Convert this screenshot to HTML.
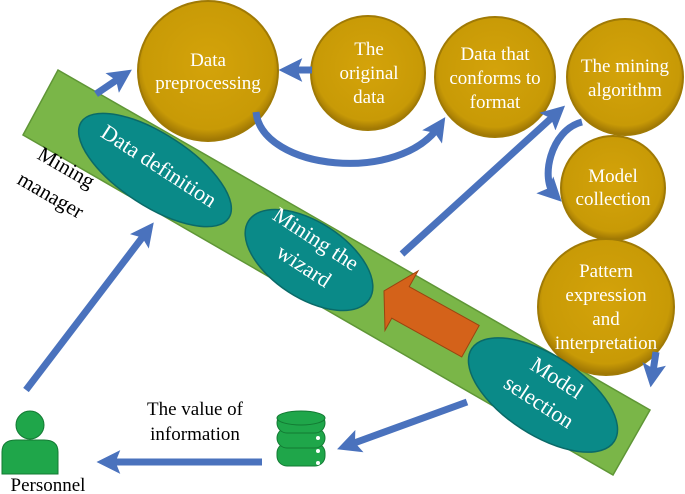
<!DOCTYPE html>
<html><head><meta charset="utf-8"><style>
html,body{margin:0;padding:0;background:#fff;}
svg{display:block;font-family:"Liberation Serif",serif;}
</style></head><body>
<svg width="685" height="494" viewBox="0 0 685 494" xmlns="http://www.w3.org/2000/svg">
<defs>
<radialGradient id="gold" cx="50%" cy="45%" r="55%"><stop offset="0" stop-color="#d4a30a"/><stop offset="0.85" stop-color="#c89a06"/><stop offset="1" stop-color="#9c7404"/></radialGradient>
<marker id="ah" viewBox="0 0 10 10" refX="6" refY="5" markerWidth="3.4" markerHeight="3.4" orient="auto"><path d="M0,0 L10,5 L0,10 L2,5z" fill="#4a72bd"/></marker>
</defs>
<!-- green bar -->
<polygon points="58,70 650,410 613,475 23,135" fill="#7ab648" stroke="#5f9636" stroke-width="1.5"/>
<!-- circles -->
<g stroke="#a07a05" stroke-width="2" fill="url(#gold)">
<circle cx="208" cy="71" r="70"/>
<circle cx="368" cy="73" r="57"/>
<circle cx="495" cy="77" r="60"/>
<circle cx="625" cy="77" r="58"/>
<circle cx="613" cy="188" r="52"/>
<ellipse cx="606" cy="307" rx="68" ry="68"/>
</g>
<g fill="#fff" font-size="19" text-anchor="middle">
<text x="208" y="66">Data</text><text x="208" y="89">preprocessing</text>
<text x="369" y="55">The</text><text x="369" y="79">original</text><text x="369" y="103">data</text>
<text x="495" y="60">Data that</text><text x="495" y="84">conforms to</text><text x="495" y="108">format</text>
<text x="625" y="72">The mining</text><text x="625" y="96">algorithm</text>
<text x="613" y="182">Model</text><text x="613" y="205">collection</text>
<text x="606" y="277">Pattern</text><text x="606" y="301">expression</text><text x="606" y="325">and</text><text x="606" y="349">interpretation</text>
</g>
<!-- ellipses -->
<g fill="#0a8a88" stroke="#0a6a68" stroke-width="1.5">
<ellipse cx="155" cy="170" rx="88" ry="36" transform="rotate(33 155 170)"/>
<ellipse cx="309" cy="260" rx="72" ry="38" transform="rotate(33 309 260)"/>
<ellipse cx="543" cy="395" rx="85" ry="40" transform="rotate(33 543 395)"/>
</g>
<g fill="#fff" font-size="22" text-anchor="middle">
<text transform="translate(155,172) rotate(33)">Data definition</text>
<text transform="translate(312,245) rotate(33)">Mining the</text>
<text transform="translate(300,272) rotate(33)">wizard</text>
<text transform="translate(553,384) rotate(33)">Model</text>
<text transform="translate(535,408) rotate(33)">selection</text>
</g>
<!-- orange arrow -->
<g transform="translate(425,316) rotate(29)">
<polygon points="-48,-2 -28,-36 -28,-18 52,-18 52,18 -28,18 -28,32" fill="#d4621a" stroke="#9a4410" stroke-width="1"/>
</g>
<!-- blue arrows -->
<g stroke="#4a72bd" stroke-width="7" fill="none" marker-end="url(#ah)">
<line x1="96" y1="94" x2="124" y2="75"/>
<line x1="312" y1="70" x2="288" y2="70"/>
<path d="M256,112 C262,170 400,185 440,125"/>
<line x1="402" y1="254" x2="558" y2="112"/>
<path d="M582,122 C550,130 540,180 555,195"/>
<line x1="656" y1="352" x2="652" y2="378"/>
<line x1="467" y1="402" x2="346" y2="446"/>
<line x1="262" y1="462" x2="106" y2="462"/>
<line x1="26" y1="390" x2="148" y2="230"/>
</g>
<!-- database -->
<g fill="#1fa64a" stroke="#137a33" stroke-width="1">
<rect x="277" y="443" width="48" height="23" rx="10"/>
<rect x="277" y="428" width="48" height="20" rx="10"/>
<rect x="277" y="413" width="48" height="20" rx="10"/>
<ellipse cx="301" cy="418" rx="24" ry="7"/>
</g>
<g fill="#fff"><circle cx="318" cy="438" r="2"/><circle cx="318" cy="451" r="2"/><circle cx="318" cy="463" r="2"/></g>
<!-- person -->
<g fill="#1fa64a" stroke="#137a33" stroke-width="1">
<circle cx="30" cy="425" r="14"/>
<path d="M2,474 L2,452 Q2,440 16,440 L44,440 Q58,440 58,452 L58,474 Z"/>
</g>
<!-- labels -->
<g fill="#000" font-size="21">
<text transform="translate(36,158) rotate(30)">Mining</text>
<text transform="translate(16,183) rotate(30)">manager</text>
<text x="195" y="415" text-anchor="middle" font-size="19">The value of</text>
<text x="195" y="440" text-anchor="middle" font-size="19">information</text>
<text x="48" y="491" text-anchor="middle" font-size="19">Personnel</text>
</g>
</svg>
</body></html>
